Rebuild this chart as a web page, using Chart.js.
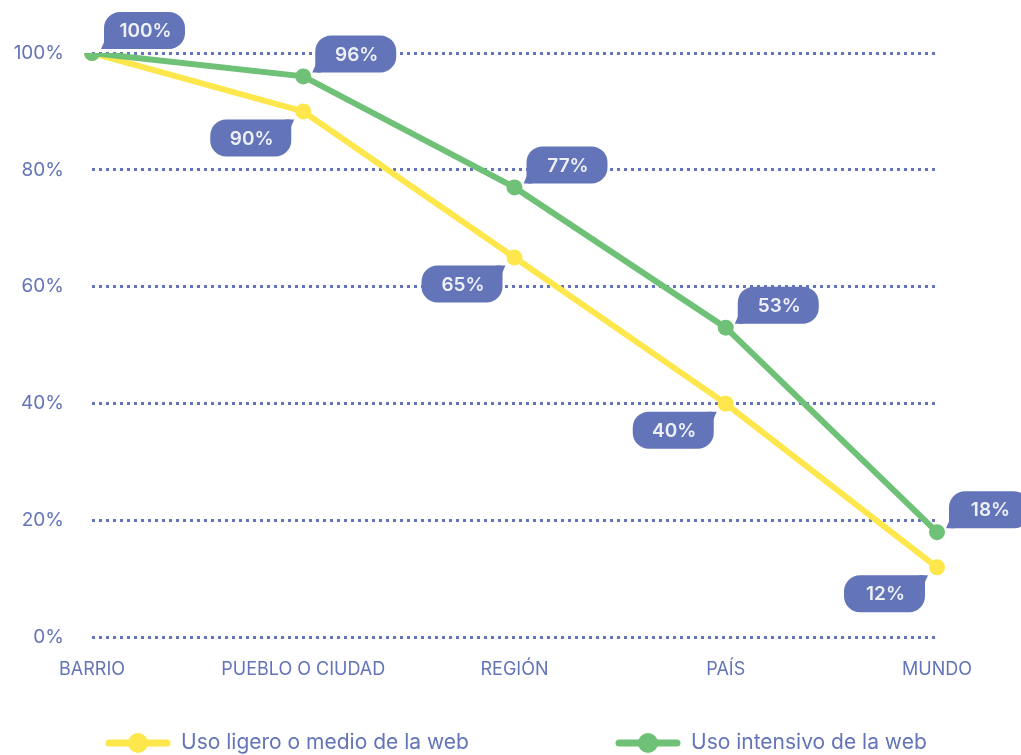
<!DOCTYPE html>
<html>
<head>
<meta charset="utf-8">
<script src="https://cdn.jsdelivr.net/npm/chart.js@4"></script>
<style>
  html, body { margin: 0; padding: 0; background: #fff; }
  #wrap { width: 1021px; height: 755px; position: relative; }
</style>
</head>
<body>
<div id="wrap"><canvas id="chart"></canvas></div>
<script>
const categories = ["BARRIO", "PUEBLO O CIUDAD", "REGIÓN", "PAÍS", "MUNDO"];
const lightUse = [100, 90, 65, 40, 12];
const heavyUse = [100, 96, 77, 53, 18];
const seriesNames = ["Uso ligero o medio de la web", "Uso intensivo de la web"];

const BLUE = "#6374b9";
const YELLOW = "#fde74c";
const GREEN = "#6ec177";
const FONT = "Inter, 'Noto Sans', sans-serif";

// speech bubbles with the values (one bubble only where both series meet)
const bubbles = {
  id: "bubbles",
  afterDatasetsDraw(chart) {
    const ctx = chart.ctx;
    const w = 81, h = 37, r = 16;
    chart.data.datasets.forEach((ds, di) => {
      const meta = chart.getDatasetMeta(di);
      meta.data.forEach((pt, i) => {
        if (ds.bubble === "below" && heavyUse[i] === lightUse[i]) return;
        let l, t;
        ctx.save();
        ctx.fillStyle = BLUE;
        ctx.beginPath();
        if (ds.bubble === "above") {
          l = pt.x + 12;
          t = pt.y - 4 - h;
          ctx.roundRect(l, t, w, h, [r, r, r, 2]);
          ctx.fill();
          ctx.beginPath();
          ctx.moveTo(l + 1, t + h - 9);
          ctx.lineTo(l - 3, t + h);
          ctx.lineTo(l + 6, t + h);
        } else {
          l = pt.x - 12 - w;
          t = pt.y + 8;
          ctx.roundRect(l, t, w, h, [r, 2, r, r]);
          ctx.fill();
          ctx.beginPath();
          ctx.moveTo(l + w - 1, t + 9);
          ctx.lineTo(l + w + 3, t);
          ctx.lineTo(l + w - 6, t);
        }
        ctx.closePath();
        ctx.fill();
        ctx.fillStyle = "#eef0f8";
        ctx.font = "600 19px " + FONT;
        ctx.textAlign = "center";
        ctx.textBaseline = "middle";
        ctx.fillText(ds.data[i] + "%", l + w / 2 + 1, t + h / 2 + 1);
        ctx.restore();
      });
    });
  }
};

// legend with line + dot markers
const lineLegend = {
  id: "lineLegend",
  afterDraw(chart) {
    const ctx = chart.ctx;
    const y = 743;
    const starts = [106, 616];
    chart.data.datasets.forEach((ds, i) => {
      const x = starts[i];
      ctx.save();
      ctx.strokeStyle = ds.borderColor;
      ctx.lineWidth = 7;
      ctx.lineCap = "round";
      ctx.beginPath();
      ctx.moveTo(x + 3, y);
      ctx.lineTo(x + 61, y);
      ctx.stroke();
      ctx.fillStyle = ds.borderColor;
      ctx.beginPath();
      ctx.arc(x + 32, y, 10, 0, Math.PI * 2);
      ctx.fill();
      ctx.fillStyle = BLUE;
      ctx.font = "21px " + FONT;
      ctx.textBaseline = "middle";
      ctx.fillText(ds.label, x + 75, y);
      ctx.restore();
    });
  }
};

new Chart(document.getElementById("chart"), {
  type: "line",
  data: {
    labels: categories,
    datasets: [
      {
        label: seriesNames[0],
        data: lightUse,
        borderColor: YELLOW,
        backgroundColor: YELLOW,
        borderWidth: 6,
        pointRadius: 8,
        pointHoverRadius: 8,
        pointBorderWidth: 0,
        tension: 0,
        order: 2,
        bubble: "below",
      },
      {
        label: seriesNames[1],
        data: heavyUse,
        borderColor: GREEN,
        backgroundColor: GREEN,
        borderWidth: 6,
        pointRadius: 8,
        pointHoverRadius: 8,
        pointBorderWidth: 0,
        tension: 0,
        order: 1,
        bubble: "above",
      },
    ],
  },
  options: {
    responsive: true,
    maintainAspectRatio: false,
    animation: false,
    layout: { padding: { top: 53, right: 84, bottom: 62, left: 0 } },
    scales: {
      x: {
        grid: { display: false },
        border: { display: false },
        ticks: { color: BLUE, font: { family: FONT, size: 18 }, padding: 13, maxRotation: 0 },
      },
      y: {
        min: 0,
        max: 100,
        afterFit: (s) => { s.width = 92; },
        grid: { color: BLUE, lineWidth: 3, drawTicks: false },
        border: { display: false, dash: [3, 4] },
        ticks: {
          stepSize: 20,
          color: BLUE,
          padding: 28,
          font: { family: FONT, size: 19 },
          callback: (v) => v + "%",
        },
      },
    },
    plugins: {
      legend: { display: false },
      tooltip: { enabled: false },
    },
  },
  plugins: [bubbles, lineLegend],
});
</script>
</body>
</html>
